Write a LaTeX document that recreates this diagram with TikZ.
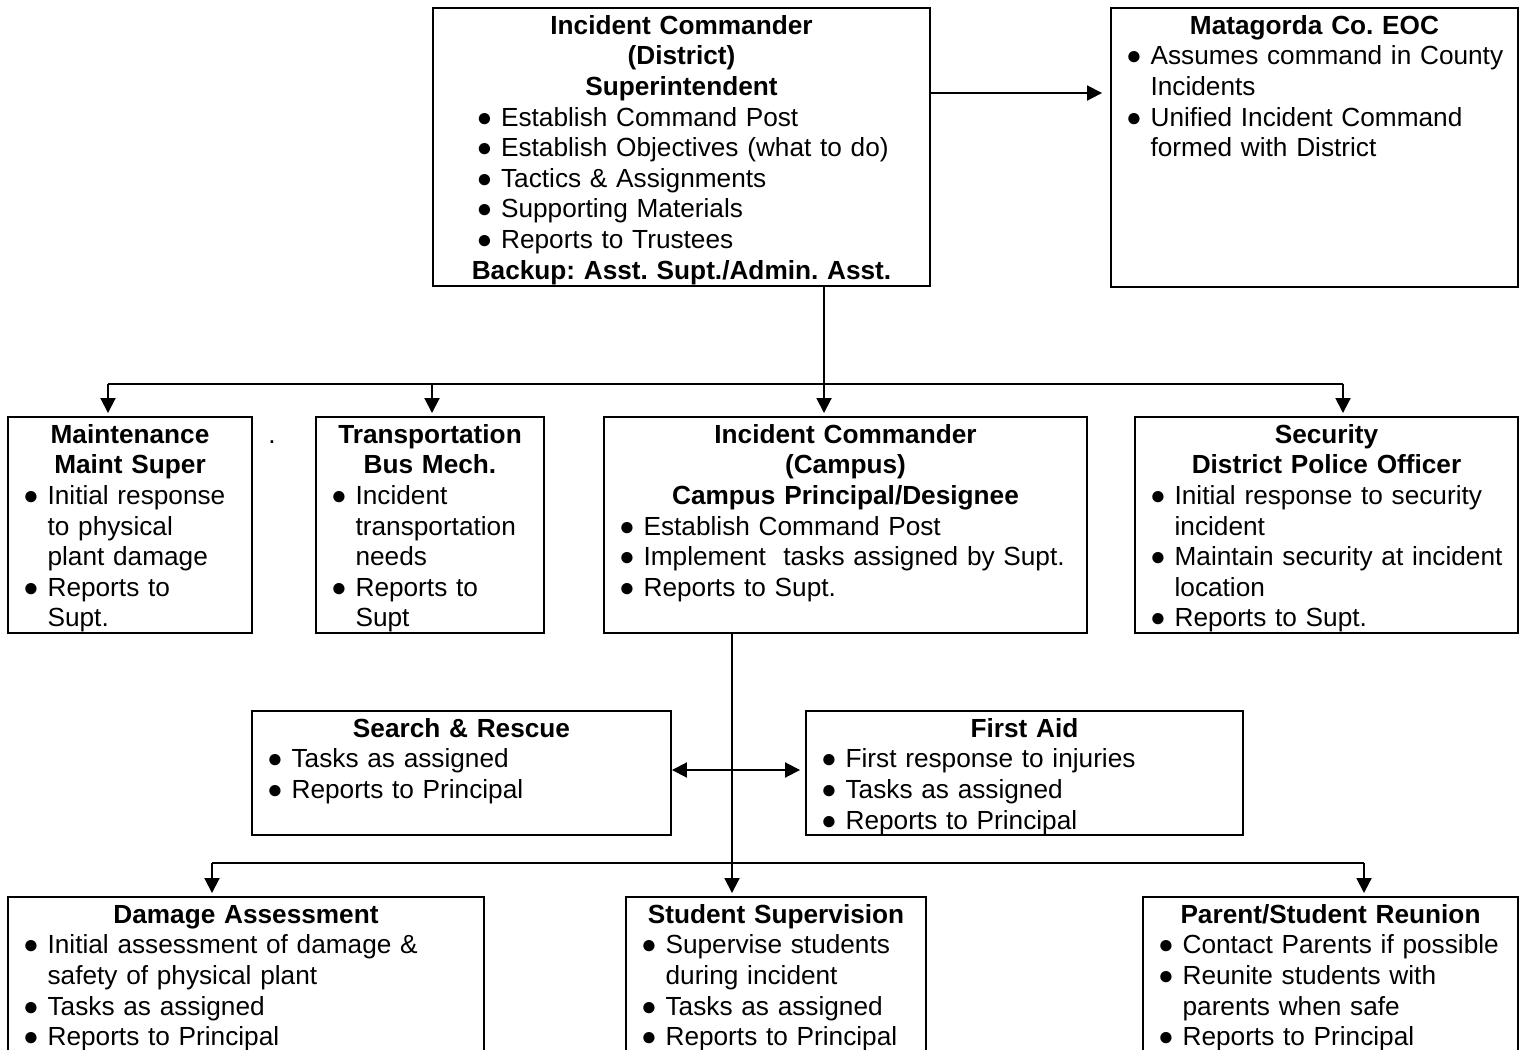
\documentclass[tikz,border=0pt]{standalone}
\usepackage{fontspec}
\setmainfont{Liberation Sans}
\usetikzlibrary{arrows.meta,fit,positioning}
\setlength{\parindent}{0pt}
\frenchspacing

\newcommand\bodyFont{\fontsize{14.92pt}{17.42pt}\selectfont}
\newcommand\ttl[1]{\makebox[\hsize]{\bfseries\strut #1}\par}
\newcommand\bul[1]{\mbox{●\ #1}\par}
\newcommand\cnt[1]{\mbox{\phantom{●\ }#1}\par}

\begin{document}
\begin{tikzpicture}[x=0.02cm, y=-0.02cm]
\tikzset{
    >={Triangle[length=0.3cm, width=0.3cm]},
    box/.style={rectangle, draw=black, line width=1.1pt, inner sep=0pt},
    boxText/.style={inner sep=0pt, anchor=north, yshift=-0.11cm, align=left,
                    font=\bodyFont, text width=#1},
    link/.style={-, line width=1.1pt},
    linkArrow/.style={->, line width=1.1pt, shorten >=0.06cm}
}
\useasboundingbox (0,0) rectangle (1521,1050);

% Caixas
\node[box, fit={(433,8) (930,286)}]    (icd) {};
\node[box, fit={(1111,8) (1518,287)}]  (mat) {};
\node[box, fit={(8,417) (252,633)}]    (mnt) {};
\node[box, fit={(316,417) (544,633)}]  (trn) {};
\node[box, fit={(604,417) (1087,633)}] (icc) {};
\node[box, fit={(1135,417) (1518,633)}] (sec) {};
\node[box, fit={(252,711) (671,835)}]  (sar) {};
\node[box, fit={(806,711) (1243,835)}] (fa)  {};
\node[box, fit={(8,897) (484,1090)}]   (dmg) {};
\node[box, fit={(626,897) (926,1090)}] (stu) {};
\node[box, fit={(1143,897) (1518,1090)}] (par) {};

% Textos
\node[boxText=8.2cm] (icdTxt) at (icd.north) {%
  \ttl{Incident Commander}
  \ttl{(District)}
  \ttl{Superintendent}
  \bul{Establish Command Post}
  \bul{Establish Objectives (what to do)}
  \bul{Tactics \& Assignments}
  \bul{Supporting Materials}
  \bul{Reports to Trustees}
  \ttl{Backup: Asst. Supt./Admin. Asst.}};
\node[boxText=7.54cm] (matTxt) at (mat.north) {%
  \ttl{Matagorda Co. EOC}
  \bul{Assumes command in County}
  \cnt{Incidents}
  \bul{Unified Incident Command}
  \cnt{formed with District}};
\node[boxText=4.28cm] (mntTxt) at (mnt.north) {%
  \ttl{Maintenance}
  \ttl{Maint Super}
  \bul{Initial response}
  \cnt{to physical}
  \cnt{plant damage}
  \bul{Reports to}
  \cnt{Supt.}};
\node[boxText=3.96cm] (trnTxt) at (trn.north) {%
  \ttl{Transportation}
  \ttl{Bus Mech.}
  \bul{Incident}
  \cnt{transportation}
  \cnt{needs}
  \bul{Reports to}
  \cnt{Supt}};
\node[boxText=9.06cm] (iccTxt) at (icc.north) {%
  \ttl{Incident Commander}
  \ttl{(Campus)}
  \ttl{Campus Principal/Designee}
  \bul{Establish Command Post}
  \bul{Implement\ \ tasks assigned by Supt.}
  \bul{Reports to Supt.}};
\node[boxText=7.06cm] (secTxt) at (sec.north) {%
  \ttl{Security}
  \ttl{District Police Officer}
  \bul{Initial response to security}
  \cnt{incident}
  \bul{Maintain security at incident}
  \cnt{location}
  \bul{Reports to Supt.}};
\node[boxText=7.78cm] (sarTxt) at (sar.north) {%
  \ttl{Search \& Rescue}
  \bul{Tasks as assigned}
  \bul{Reports to Principal}};
\node[boxText=8.14cm] (faTxt) at (fa.north) {%
  \ttl{First Aid}
  \bul{First response to injuries}
  \bul{Tasks as assigned}
  \bul{Reports to Principal}};
\node[boxText=8.92cm] (dmgTxt) at (dmg.north) {%
  \ttl{Damage Assessment}
  \bul{Initial assessment of damage \&}
  \cnt{safety of physical plant}
  \bul{Tasks as assigned}
  \bul{Reports to Principal}};
\node[boxText=5.4cm] (stuTxt) at (stu.north) {%
  \ttl{Student Supervision}
  \bul{Supervise students}
  \cnt{during incident}
  \bul{Tasks as assigned}
  \bul{Reports to Principal}};
\node[boxText=6.9cm] (parTxt) at (par.north) {%
  \ttl{Parent/Student Reunion}
  \bul{Contact Parents if possible}
  \bul{Reunite students with}
  \cnt{parents when safe}
  \bul{Reports to Principal}};
\node[font=\bodyFont, anchor=base, inner sep=0pt] (dot) at (272,444) {.};

% Ligações do distrito
\draw[linkArrow, shorten >=0.16cm] ([yshift=-1.72cm]icd.north east) -- ([yshift=-1.72cm]mat.north west);
\coordinate (topSplit) at (824,384);
\coordinate (toMnt)    at (108,384);
\coordinate (toTrn)    at (432,384);
\coordinate (toSec)    at (1343,384);
\draw[link] (topSplit |- icd.south) -- (topSplit);
\draw[link] (toMnt) -- (toSec);
\draw[linkArrow] (toMnt)    -- (toMnt |- mnt.north);
\draw[linkArrow] (toTrn)    -- (toTrn |- trn.north);
\draw[linkArrow] (topSplit) -- (topSplit |- icc.north);
\draw[linkArrow] (toSec)    -- (toSec |- sec.north);

% Ligações do campus
\coordinate (midSplit) at (732,863);
\coordinate (toDmg)    at (212,863);
\coordinate (toPar)    at (1364,863);
\draw[link] (midSplit |- icc.south) -- (midSplit);
\draw[link] (toDmg) -- (toPar);
\draw[linkArrow] (toDmg)    -- (toDmg |- dmg.north);
\draw[linkArrow] (midSplit) -- (midSplit |- stu.north);
\draw[linkArrow] (toPar)    -- (toPar |- par.north);
\draw[link, <->, shorten >=0.1cm] ([yshift=0.06cm]sar.east) -- ([yshift=0.06cm]fa.west);
\end{tikzpicture}
\end{document}
